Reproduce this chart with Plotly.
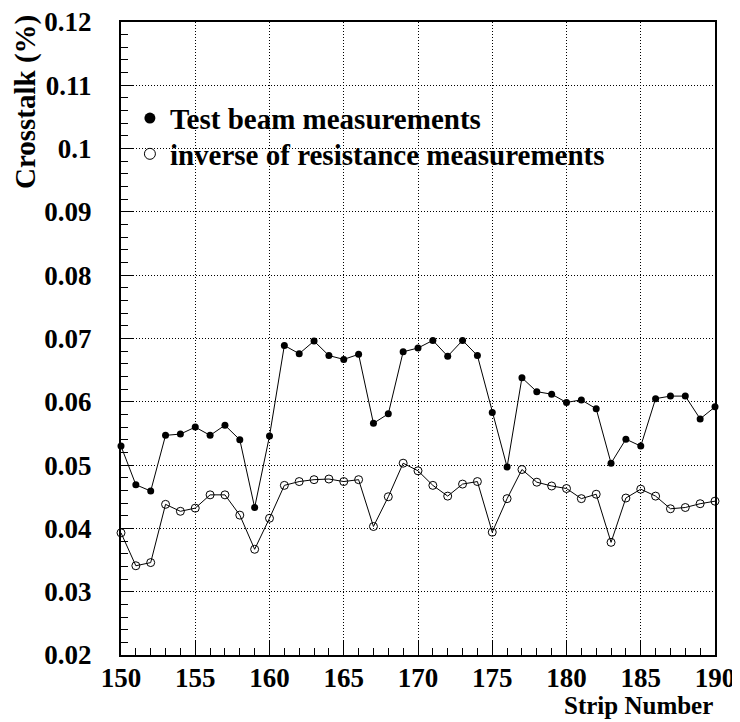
import plotly.graph_objects as go

strips = list(range(150, 191))
test_beam = [0.0530, 0.0469, 0.0459, 0.0547, 0.0549, 0.0560, 0.0547, 0.0563, 0.0540, 0.0433,
             0.0546, 0.0689, 0.0676, 0.0696, 0.0673, 0.0667, 0.0675, 0.0566, 0.0581, 0.0679,
             0.0685, 0.0697, 0.0672, 0.0697, 0.0673, 0.0583, 0.0497, 0.0638, 0.0616, 0.0612,
             0.0599, 0.0603, 0.0589, 0.0503, 0.0541, 0.0530, 0.0605, 0.0609, 0.0609, 0.0573,
             0.0592]
inverse_res = [0.0393, 0.0341, 0.0346, 0.0438, 0.0427, 0.0432, 0.0453, 0.0453, 0.0421, 0.0367,
               0.0416, 0.0468, 0.0474, 0.0477, 0.0478, 0.0474, 0.0477, 0.0403, 0.0450, 0.0503,
               0.0491, 0.0468, 0.0451, 0.0470, 0.0474, 0.0394, 0.0447, 0.0493, 0.0473, 0.0467,
               0.0463, 0.0447, 0.0454, 0.0378, 0.0448, 0.0462, 0.0451, 0.0431, 0.0433, 0.0439,
               0.0443]
x_ticks = [150, 155, 160, 165, 170, 175, 180, 185, 190]
y_ticks = [0.02, 0.03, 0.04, 0.05, 0.06, 0.07, 0.08, 0.09, 0.1, 0.11, 0.12]
y_tick_text = ["0.02", "0.03", "0.04", "0.05", "0.06", "0.07", "0.08", "0.09", "0.1", "0.11", "0.12"]
legend_names = ["Test beam measurements", "inverse of resistance measurements"]

FONT = "Liberation Serif, Times New Roman, serif"

fig = go.Figure()
fig.add_trace(go.Scatter(x=strips, y=test_beam, mode="lines+markers",
                         line=dict(color="black", width=1),
                         marker=dict(symbol="circle", size=7, color="black"),
                         showlegend=False, cliponaxis=False))
fig.add_trace(go.Scatter(x=strips, y=inverse_res, mode="lines+markers",
                         line=dict(color="black", width=1),
                         marker=dict(symbol="circle-open", size=8, color="black",
                                     line=dict(width=1, color="black")),
                         showlegend=False, cliponaxis=False))
# legend entries (markers only), each in its own legend box for exact placement
fig.add_trace(go.Scatter(x=[None], y=[None], mode="markers", name=legend_names[0],
                         marker=dict(symbol="circle", size=11, color="black"),
                         legend="legend"))
fig.add_trace(go.Scatter(x=[None], y=[None], mode="markers", name=legend_names[1],
                         marker=dict(symbol="circle-open", size=11, color="black",
                                     line=dict(width=1, color="black")),
                         legend="legend2"))

axis_common = dict(showline=True, linecolor="black", linewidth=2, mirror=True,
                   showgrid=True, gridcolor="black", gridwidth=1, griddash="1px,2px",
                   zeroline=False, ticks="inside", tickcolor="black", automargin=False,
                   ticklabeloverflow="allow",
                   tickfont=dict(family=FONT, size=27, color="black", weight="bold"))

fig.update_xaxes(range=[150, 190], tickvals=x_ticks, ticklen=14, tickwidth=1,
                 minor=dict(dtick=1, ticks="inside", ticklen=7, tickcolor="black", showgrid=False),
                 ticklabelstandoff=-2, **axis_common)
fig.update_yaxes(range=[0.02, 0.12], tickvals=y_ticks, ticktext=y_tick_text, ticklen=12, tickwidth=1,
                 minor=dict(dtick=0.002, tick0=0.02, ticks="inside", ticklen=7, tickcolor="black", showgrid=False),
                 ticklabelstandoff=22, **axis_common)

legend_common = dict(xanchor="left", yanchor="middle", bgcolor="rgba(0,0,0,0)", borderwidth=0,
                     font=dict(family=FONT, size=29, color="black", weight="bold"), itemwidth=30)

# The page body adds an 8px margin, so the figure is sized 8px smaller in each direction.
fig.update_layout(
    template="none",
    width=732, height=714,
    margin=dict(l=113, r=25, t=14, b=67),
    paper_bgcolor="white", plot_bgcolor="white",
    font=dict(family=FONT, color="black", weight="bold"),
    showlegend=True,
    legend=dict(x=0.015, y=0.848, **legend_common),
    legend2=dict(x=0.015, y=0.7915, **legend_common),
    annotations=[
        dict(text="Crosstalk (%)", textangle=-90, xref="paper", yref="paper",
             x=-0.1605, y=0.873, xanchor="center", yanchor="middle", showarrow=False,
             font=dict(family=FONT, size=29, color="black", weight="bold")),
        dict(text="Strip Number", xref="paper", yref="paper",
             x=1.0, y=-0.08, xanchor="right", yanchor="middle", showarrow=False,
             font=dict(family=FONT, size=25, color="black", weight="bold")),
    ],
)

fig.write_html("out.html")
